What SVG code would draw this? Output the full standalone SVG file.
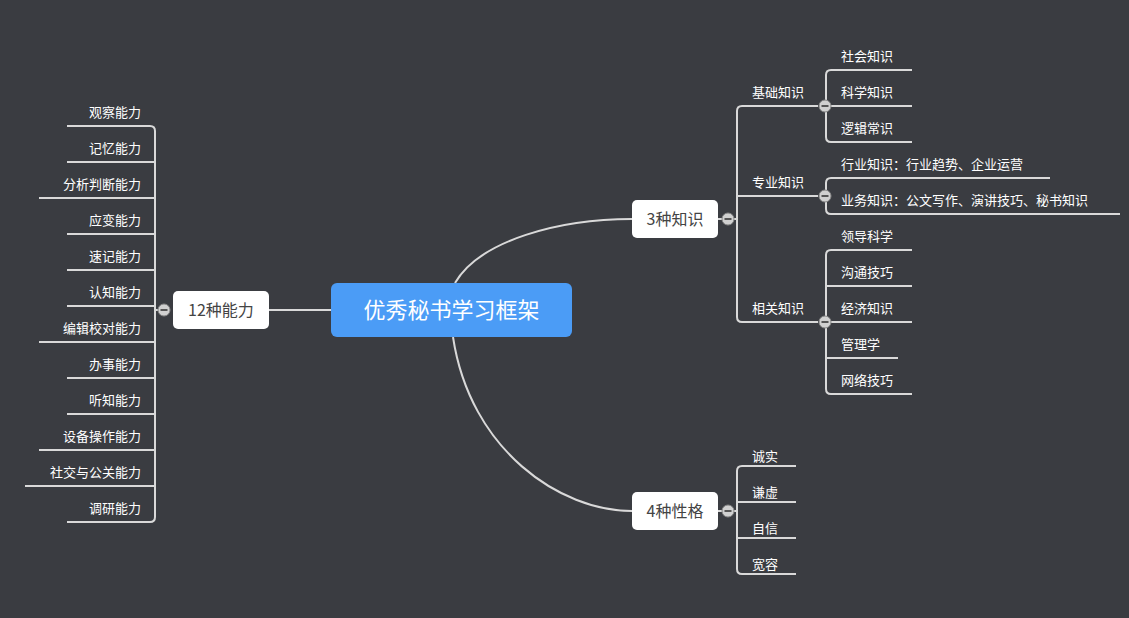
<svg xmlns="http://www.w3.org/2000/svg" width="1129" height="618" viewBox="0 0 1129 618">
<style>
.l{fill:none;stroke:#d9d9d9;stroke-width:2}
.t{font-family:"Noto Sans CJK SC",sans-serif;font-size:13px;fill:#fff}
.b{fill:#fff}
.bt{font-family:"Noto Sans CJK SC",sans-serif;font-size:16px;fill:#444;text-anchor:middle}
.r{text-anchor:end}
</style>
<defs>
<g id="m"><circle r="6" fill="#d0d0d0" stroke="#888" stroke-width="1"/><rect x="-3.5" y="-1" width="7" height="2" fill="#555"/></g>
</defs>
<rect width="1129" height="618" fill="#3a3c41"/>
<g id="connectors">
<path class="l" d="M269,310 H331"/>
<path class="l" d="M455,283 C480,240 560,219 632,219"/>
<path class="l" d="M453,337 C470,450 560,511 632,511"/>
<path class="l" d="M155,310 V131 Q155,126 150,126 H67 M155,162 H150 H67 M155,198 H39 M155,234 H67 M155,270 H67 M155,306 H67 M155,310 V517 Q155,522 150,522 H67 M155,342 H39 M155,378 H67 M155,414 H67 M155,450 H39 M155,486 H25 M164,310 H155"/>
<path class="l" d="M718,219 H737 M737,219 V111 Q737,106 742,106 H818 M737,196 H818 M737,219 V317 Q737,322 742,322 H818"/>
<path class="l" d="M826,106 V75 Q826,70 831,70 H912 M826,106 H912 M826,106 V137 Q826,142 831,142 H912"/>
<path class="l" d="M826,196 V183 Q826,178 831,178 H1050 M826,196 V209 Q826,214 831,214 H1120"/>
<path class="l" d="M826,322 V255 Q826,250 831,250 H912 M826,286 H912 M826,322 H912 M826,358 H898 M826,322 V389 Q826,394 831,394 H912"/>
<path class="l" d="M718,511 H737 M737,511 V471 Q737,466 742,466 H796 M737,502 H796 M737,538 H796 M737,511 V569 Q737,574 742,574 H796"/>
</g>
<g id="center"><rect x="331" y="283" width="241" height="54" rx="6" fill="#4b9cf6"/><text x="451.5" y="318" font-family="Noto Sans CJK SC,sans-serif" font-size="22" fill="#fff" text-anchor="middle">优秀秘书学习框架</text></g>
<g id="n12"><rect class="b" x="173" y="291" width="96" height="38" rx="5"/><text class="bt" x="221" y="316">12种能力</text><use href="#m" x="164" y="310"/></g>
<g id="n3"><rect class="b" x="632" y="200" width="86" height="38" rx="5"/><text class="bt" x="675" y="225">3种知识</text><use href="#m" x="728" y="219"/></g>
<g id="n4"><rect class="b" x="632" y="492" width="86" height="38" rx="5"/><text class="bt" x="675" y="517">4种性格</text><use href="#m" x="728" y="511"/></g>
<g id="left-leaves" class="t">
<text class="t r" x="141" y="117">观察能力</text>
<text class="t r" x="141" y="153">记忆能力</text>
<text class="t r" x="141" y="189">分析判断能力</text>
<text class="t r" x="141" y="225">应变能力</text>
<text class="t r" x="141" y="261">速记能力</text>
<text class="t r" x="141" y="297">认知能力</text>
<text class="t r" x="141" y="333">编辑校对能力</text>
<text class="t r" x="141" y="369">办事能力</text>
<text class="t r" x="141" y="405">听知能力</text>
<text class="t r" x="141" y="441">设备操作能力</text>
<text class="t r" x="141" y="477">社交与公关能力</text>
<text class="t r" x="141" y="513">调研能力</text>
</g>
<g id="k1"><text class="t" x="752" y="97">基础知识</text><use href="#m" x="825" y="106"/></g>
<g id="k2"><text class="t" x="752" y="187">专业知识</text><use href="#m" x="825" y="196"/></g>
<g id="k3"><text class="t" x="752" y="313">相关知识</text><use href="#m" x="825" y="322"/></g>
<g id="right-leaves">
<text class="t" x="841" y="61">社会知识</text>
<text class="t" x="841" y="97">科学知识</text>
<text class="t" x="841" y="133">逻辑常识</text>
<text class="t" x="841" y="169">行业知识：行业趋势、企业运营</text>
<text class="t" x="841" y="205">业务知识：公文写作、演讲技巧、秘书知识</text>
<text class="t" x="841" y="241">领导科学</text>
<text class="t" x="841" y="277">沟通技巧</text>
<text class="t" x="841" y="313">经济知识</text>
<text class="t" x="841" y="349">管理学</text>
<text class="t" x="841" y="385">网络技巧</text>
<text class="t" x="752" y="461">诚实</text>
<text class="t" x="752" y="497">谦虚</text>
<text class="t" x="752" y="533">自信</text>
<text class="t" x="752" y="569">宽容</text>
</g>
</svg>
